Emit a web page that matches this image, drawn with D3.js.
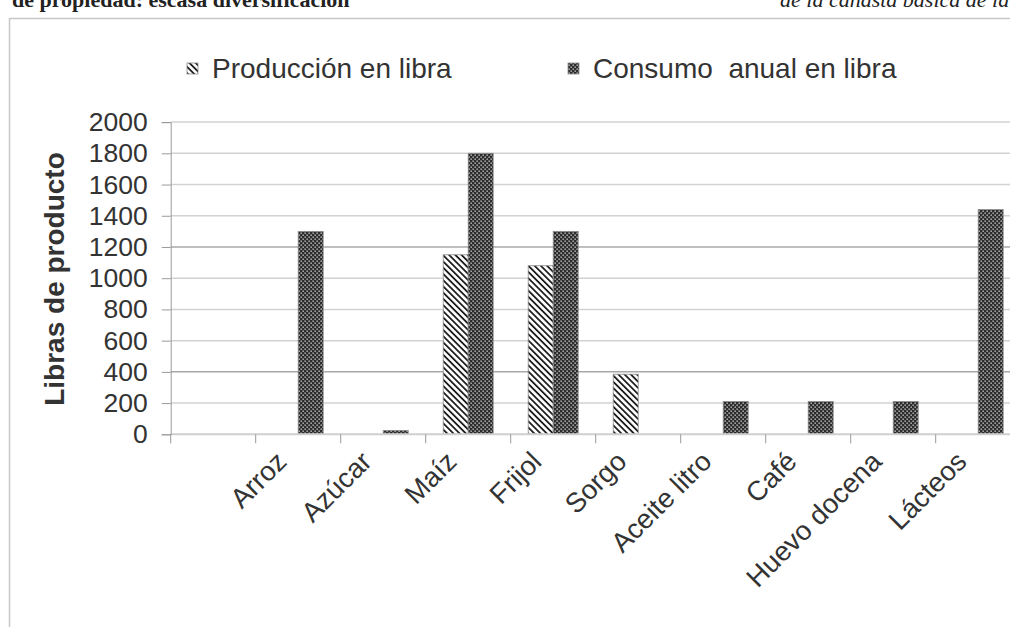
<!DOCTYPE html>
<html><head><meta charset="utf-8">
<script src="https://cdn.jsdelivr.net/npm/d3@7"></script>
<style>body{margin:0;background:#fff;} svg{display:block;}</style>
</head><body>
<svg id="chart" width="1010" height="627"></svg>
<script>
const categories = ["", "Arroz", "Azúcar", "Maíz", "Frijol", "Sorgo", "Aceite litro", "Café", "Huevo docena", "Lácteos"];
const production = [null, 0, 0, 1150, 1080, 385, 0, 0, 0, 0];
const consumption = [null, 1300, 25, 1800, 1300, 0, 210, 210, 210, 1440];
const seriesNames = ["Producción en libra", "Consumo  anual en libra"];
const yTickValues = [0, 200, 400, 600, 800, 1000, 1200, 1400, 1600, 1800, 2000];
const yTitle = "Libras de producto";
const headerLeft = "de propiedad: escasa diversificación";
const headerRight = "de la canasta básica de la";

const W = 1010, H = 627;
const svg = d3.select("#chart");
svg.append("rect").attr("width", W).attr("height", H).attr("fill", "#fff");
const defs = svg.append("defs");

// hatch pattern for production
const hatch = defs.append("pattern").attr("id", "hatch")
  .attr("patternUnits", "userSpaceOnUse").attr("width", 4.4).attr("height", 10)
  .attr("patternTransform", "rotate(-45)");
hatch.append("rect").attr("width", 4.4).attr("height", 10).attr("fill", "#fff");
hatch.append("rect").attr("x", 0).attr("width", 1.8).attr("height", 10).attr("fill", "#1e1e1e");

// checker pattern for consumption
const chk = defs.append("pattern").attr("id", "checker")
  .attr("patternUnits", "userSpaceOnUse").attr("width", 4).attr("height", 4);
chk.append("rect").attr("width", 4).attr("height", 4).attr("fill", "#2c2c2c");
chk.append("rect").attr("x", 0.5).attr("y", 0.5).attr("width", 1.3).attr("height", 1.3).attr("fill", "#e0e0e0");
chk.append("rect").attr("x", 2.5).attr("y", 2.5).attr("width", 1.3).attr("height", 1.3).attr("fill", "#e0e0e0");

const fills = ["url(#hatch)", "url(#checker)"];
const series = [production, consumption];

// partly visible header text from the surrounding document
svg.append("text").attr("x", 12).attr("y", 7)
  .attr("font-family", "Liberation Serif").attr("font-weight", "bold").attr("font-size", 22)
  .attr("fill", "#222").text(headerLeft);
svg.append("text").attr("x", 780).attr("y", 7)
  .attr("font-family", "Liberation Serif").attr("font-style", "italic").attr("font-size", 22)
  .attr("fill", "#222").text(headerRight);

// frame
svg.append("path").attr("d", `M9.5,${H} V18.5 H${W}`).attr("fill", "none")
  .attr("stroke", "#c8c8c8").attr("stroke-width", 1.5);

const x = d3.scaleBand().domain(categories.map((d, i) => i)).range([170.7, 1020.7]).padding(0);
const y = d3.scaleLinear().domain([0, 2000]).range([434.3, 122.1]);
const barW = 25;

// gridlines
svg.append("g").selectAll("line").data(yTickValues.filter(v => v > 0)).join("line")
  .attr("x1", 170.7).attr("x2", W).attr("y1", d => y(d)).attr("y2", d => y(d))
  .attr("stroke", d => (d === 400 || d === 1200) ? "#a8a8a8" : "#d2d2d2").attr("stroke-width", 1.5);

// bars
series.forEach((vals, s) => {
  svg.append("g").selectAll("rect").data(vals.map((v, i) => ({ v, i })).filter(d => d.v))
    .join("rect")
    .attr("x", d => x(d.i) + x.bandwidth() / 2 - barW + s * barW)
    .attr("y", d => y(d.v))
    .attr("width", barW)
    .attr("height", d => y(0) - y(d.v))
    .attr("fill", fills[s])
    .attr("stroke", "#8a8a8a").attr("stroke-width", 0.8);
});

// x axis
const xAxis = svg.append("g").attr("transform", `translate(0,${y(0)})`);
xAxis.append("line").attr("x1", 170.7).attr("x2", W).attr("stroke", "#cfcfcf").attr("stroke-width", 2);
xAxis.selectAll("line.tk").data(categories.map((d, i) => i)).join("line").attr("class", "tk")
  .attr("x1", d => x(d)).attr("x2", d => x(d)).attr("y1", 0).attr("y2", 9)
  .attr("stroke", "#9a9a9a").attr("stroke-width", 1);
xAxis.selectAll("text").data(categories.map((d, i) => ({ d, i })).filter(o => o.d)).join("text")
  .attr("transform", o => `translate(${x(o.i) + x.bandwidth() / 2 - 10},29) rotate(-45)`)
  .attr("text-anchor", "end")
  .attr("font-family", "Liberation Sans, Arial, sans-serif").attr("font-size", 27.5)
  .attr("fill", "#333").text(o => o.d);

// y axis
const yAxis = svg.append("g").attr("transform", "translate(170.7,0)")
  .call(d3.axisLeft(y).tickValues(yTickValues).tickSize(9).tickPadding(14).tickFormat(d3.format("d")));
yAxis.select(".domain").attr("stroke", "#9a9a9a").attr("stroke-width", 1);
yAxis.selectAll(".tick line").attr("stroke", "#9a9a9a");
yAxis.selectAll(".tick text").attr("font-family", "Liberation Sans, Arial, sans-serif")
  .attr("font-size", 26.5).attr("fill", "#333");

// y title
svg.append("text").attr("transform", `translate(64,279) rotate(-90)`)
  .attr("text-anchor", "middle").attr("font-family", "Liberation Sans, Arial, sans-serif")
  .attr("font-weight", "bold").attr("font-size", 28).attr("fill", "#333").text(yTitle);

// legend
const legX = [187, 568];
const leg = svg.append("g").selectAll("g").data(seriesNames).join("g")
  .attr("transform", (d, i) => `translate(${legX[i]},68)`);
leg.append("rect").attr("x", 0).attr("y", -5).attr("width", 11).attr("height", 11)
  .attr("fill", (d, i) => fills[i]).attr("stroke", "#8a8a8a").attr("stroke-width", 0.8);
leg.append("text").attr("x", 25).attr("y", 10).style("white-space", "pre")
  .attr("font-family", "Liberation Sans, Arial, sans-serif").attr("font-size", 28)
  .attr("fill", "#333").text(d => d);
</script>
</body></html>
